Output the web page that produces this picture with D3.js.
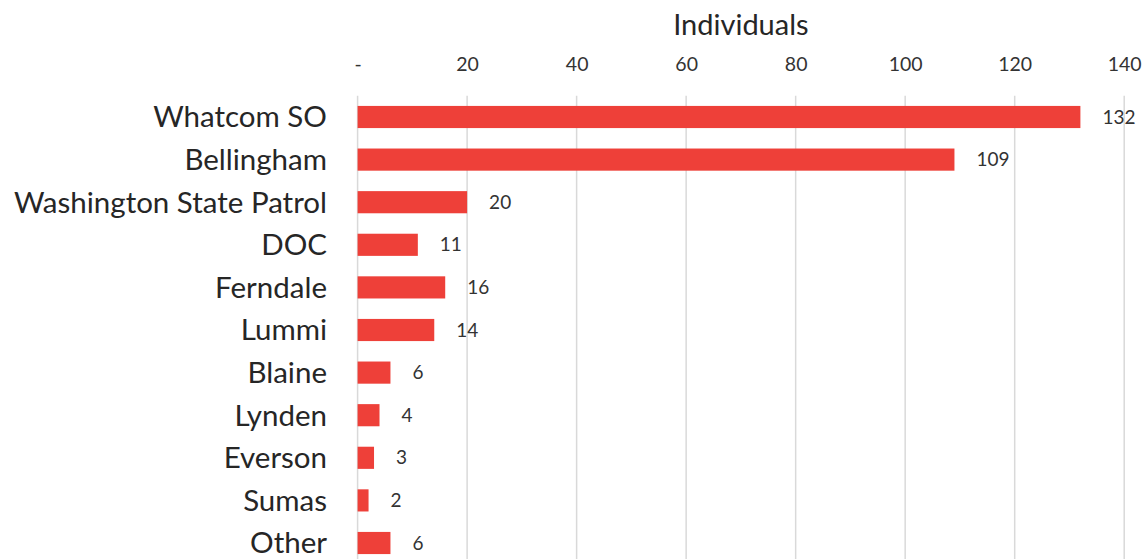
<!DOCTYPE html>
<html><head><meta charset="utf-8">
<script src="https://cdn.jsdelivr.net/npm/d3@7"></script>
<style>body{margin:0;background:#fff;} svg{display:block;}</style>
</head><body>
<svg id="chart" width="1147" height="559"></svg>
<script>
const categories = ["Whatcom SO","Bellingham","Washington State Patrol","DOC","Ferndale","Lummi","Blaine","Lynden","Everson","Sumas","Other"];
const values = [132,109,20,11,16,14,6,4,3,2,6];
const tickValues = [0,20,40,60,80,100,120,140];
const tickLabels = ["-","20","40","60","80","100","120","140"];
const axisTitle = "Individuals";

(function(){
const svg = d3.select("#chart");
const font = "Lato, 'Open Sans', sans-serif";
const pL = 357.6, pR = 1124.2, pT = 95.7, pB = 564.3;
const x = d3.scaleLinear().domain([0,140]).range([pL,pR]);
const y = d3.scaleBand().domain(categories).range([pT,pB]).paddingInner(0.48).paddingOuter(0.24);

svg.append("g").selectAll("line").data(tickValues).join("line")
  .attr("x1",d=>x(d)).attr("x2",d=>x(d)).attr("y1",pT).attr("y2",559)
  .attr("stroke","#d9d9d9").attr("stroke-width",1.5);

const ax = d3.axisTop(x).tickValues(tickValues).tickFormat((d,i)=>tickLabels[i]).tickSize(0).tickPadding(0);
const gAx = svg.append("g").attr("transform",`translate(0,${71})`).call(ax);
gAx.select(".domain").remove();
gAx.selectAll("text").attr("font-family",font).attr("font-size",19.5).attr("fill","#333").attr("dy","0");

svg.append("text").attr("x",(pL+pR)/2).attr("y",35).attr("text-anchor","middle")
  .attr("font-family",font).attr("font-size",29).attr("fill","#262626").text(axisTitle);

svg.append("g").selectAll("rect").data(values).join("rect")
  .attr("x",x(0)).attr("y",(d,i)=>y(categories[i]))
  .attr("width",d=>x(d)-x(0)).attr("height",y.bandwidth())
  .attr("fill","#EE4039");

const ay = d3.axisLeft(y).tickSize(0).tickPadding(0);
const gAy = svg.append("g").attr("transform",`translate(${327},0)`).call(ay);
gAy.select(".domain").remove();
gAy.selectAll("text").attr("font-family",font).attr("font-size",29.5).attr("fill","#262626").attr("dy","0.35em");

svg.append("g").selectAll("text").data(values).join("text")
  .attr("x",d=>x(d)+22).attr("y",(d,i)=>y(categories[i])+y.bandwidth()/2)
  .attr("dy","0.35em").attr("font-family",font).attr("font-size",19).attr("fill","#333")
  .text(d=>d);
})();
</script>
</body></html>
